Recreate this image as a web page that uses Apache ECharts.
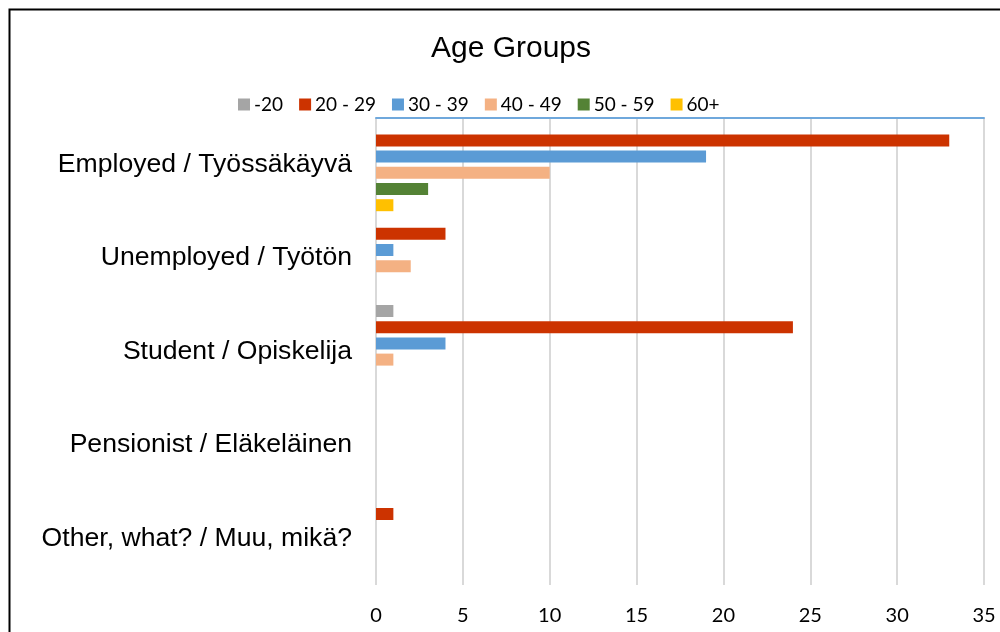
<!DOCTYPE html>
<html>
<head>
<meta charset="utf-8">
<script src="https://cdn.jsdelivr.net/npm/echarts@6/dist/echarts.min.js"></script>
<style>
    html, body { margin: 0; padding: 0; background: #fff; }
    #chart { width: 1000px; height: 632px; }
</style>
</head>
<body>
<div id="chart"></div>
<script>
var categories = ['Employed / Työssäkäyvä', 'Unemployed / Työtön', 'Student / Opiskelija', 'Pensionist / Eläkeläinen', 'Other, what? / Muu, mikä?'];
var ageGroups = ['-20', '20 - 29', '30 - 39', '40 - 49', '50 - 59', '60+'];
var colors = ['#a5a5a5', '#cc3300', '#5b9bd5', '#f4b183', '#548235', '#ffc000'];

var under20 = [0, 0, 1, 0, 0];
var age20to29 = [33, 4, 24, 0, 1];
var age30to39 = [19, 1, 4, 0, 0];
var age40to49 = [10, 2, 1, 0, 0];
var age50to59 = [3, 0, 0, 0, 0];
var age60plus = [1, 0, 0, 0, 0];
var seriesValues = [under20, age20to29, age30to39, age40to49, age50to59, age60plus];

var xTicks = { min: 0, max: 35, interval: 5 };

var mychart = echarts.init(document.getElementById('chart'));

var series = ageGroups.map(function(name, idx) {
    return {
        name: name,
        type: 'bar',
        barWidth: 12,
        barGap: '35%',
        itemStyle: { color: colors[idx] },
        data: seriesValues[idx]
    };
});

var option = {
    animation: false,
    color: colors,
    title: {
        text: 'Age Groups',
        left: 506,
        textAlign: 'center',
        top: 29,
        textStyle: {
            fontFamily: 'Liberation Sans',
            fontSize: 30,
            fontWeight: 'normal',
            color: '#000'
        }
    },
    legend: {
        left: 233,
        top: 90,
        itemWidth: 12,
        itemHeight: 12,
        itemGap: 16,
        icon: 'rect',
        textStyle: {
            fontFamily: 'Lato',
            fontSize: 19,
            color: '#000',
            padding: [0, 0, 0, -1]
        },
        data: ageGroups
    },
    grid: {
        left: 376,
        right: 16,
        top: 118,
        bottom: 47,
        containLabel: false
    },
    xAxis: [{
        type: 'value',
        min: xTicks.min,
        max: xTicks.max,
        interval: xTicks.interval,
        axisLine: { show: false },
        axisTick: { show: false },
        axisLabel: {
            margin: 21,
            fontFamily: 'Lato',
            fontSize: 20,
            color: '#000'
        },
        splitLine: { lineStyle: { color: '#d9d9d9', width: 2 } }
    }, {
        type: 'value',
        position: 'top',
        min: xTicks.min,
        max: xTicks.max,
        axisLine: { show: true, lineStyle: { color: '#6fa8dc', width: 2 } },
        axisTick: { show: false },
        axisLabel: { show: false },
        splitLine: { show: false }
    }],
    yAxis: {
        type: 'category',
        inverse: true,
        data: categories,
        axisLine: { show: false },
        axisTick: { show: false },
        axisLabel: {
            margin: 24,
            fontFamily: 'Liberation Sans',
            fontSize: 26.6,
            color: '#000'
        }
    },
    graphic: [{
        type: 'rect',
        left: 7,
        top: 7,
        shape: { width: 1010, height: 650 },
        style: { fill: 'none', stroke: '#000', lineWidth: 2 },
        silent: true
    }],
    series: series
};

mychart.setOption(option);
</script>
</body>
</html>
